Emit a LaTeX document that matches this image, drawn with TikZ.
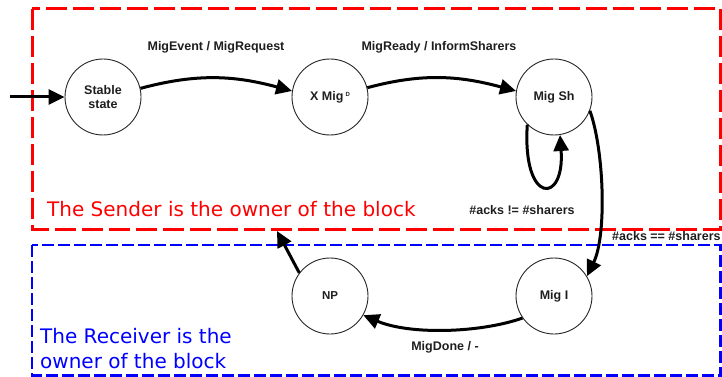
\documentclass[tikz,border=0pt]{standalone}
\usepackage{fontspec}
\setmainfont{Liberation Sans}
\newfontfamily\dejavu{DejaVu Sans}
\usetikzlibrary{arrows.meta}
\definecolor{txt}{HTML}{1E1E1E}
\definecolor{sendred}{HTML}{FF0000}
\definecolor{recvblue}{HTML}{0000FF}
\begin{document}
\begin{tikzpicture}[x=1pt,y=-1pt,
  state/.style={circle, draw=black!85, line width=0.9pt, minimum size=76pt, inner sep=0pt,
    font=\bfseries\fontsize{12.5}{14}\selectfont, text=txt, align=center},
  trans/.style={line width=3pt, draw=black, -{Triangle[length=16pt,width=15pt]}},
  lab/.style={font=\bfseries\fontsize{12.5}{14}\selectfont, text=txt, inner sep=0pt, anchor=base},
  sendbox/.style={draw=sendred, line width=3pt, dash pattern=on 21pt off 6pt},
  recvbox/.style={draw=recvblue, line width=2.2pt, dash pattern=on 12pt off 4pt},
  boxtext/.style={font=\dejavu\fontsize{20}{25}\selectfont, inner sep=0pt, align=left}]
\useasboundingbox (0,0) rectangle (722,377);

% ownership regions
\draw[sendbox] (32,9) rectangle (720.5,229);
\draw[recvbox] (32,245) rectangle (720.5,375.5);
\node[boxtext, text=sendred, anchor=base west] (sendtxt) at (47,216) {The Sender is the owner of the block};
\node[boxtext, text=recvblue, anchor=base west] (recvtxt) at (40,368) {The Receiver is the\\owner of the block};

% states
\node[state] (st) at (103,97) {Stable\\state};
\node[state] (xm) at (330,97) {X Mig\,\raisebox{4pt}{\fontsize{6}{6}\selectfont D}};
\node[state] (ms) at (554,97) {Mig Sh};
\node[state] (mi) at (554,296) {Mig I};
\node[state, font=\bfseries\fontsize{11.5}{13}\selectfont] (np) at (330,296) {NP};

\coordinate (entry) at (10,97);
\coordinate (back) at (277,231);

% transitions
\draw[trans] (entry) -- (st.west);
\draw[trans] (st.13) to[out=15, in=165] (xm.171);
\draw[trans] (xm.14) to[out=15, in=165] (ms.171);
\draw[trans] (ms.226) .. controls (522,205) and (565,205) .. (ms.-81);
\draw[trans] (ms.-21) .. controls (604,150) and (607,235) .. (mi.31);
\draw[trans] (mi.215) .. controls (480,333) and (410,335) .. (np.-30);
\draw[trans] (np.143) -- (back);

% labels
\node[lab] (l1) at (216,51) {MigEvent / MigRequest};
\node[lab] (l2) at (439,51) {MigReady / InformSharers};
\node[lab] (l3) at (522,214) {\#acks != \#sharers};
\node[lab, anchor=base west] (l4) at (612,240) {\#acks == \#sharers};
\node[lab] (l5) at (445,350) {MigDone / -};
\end{tikzpicture}
\end{document}
